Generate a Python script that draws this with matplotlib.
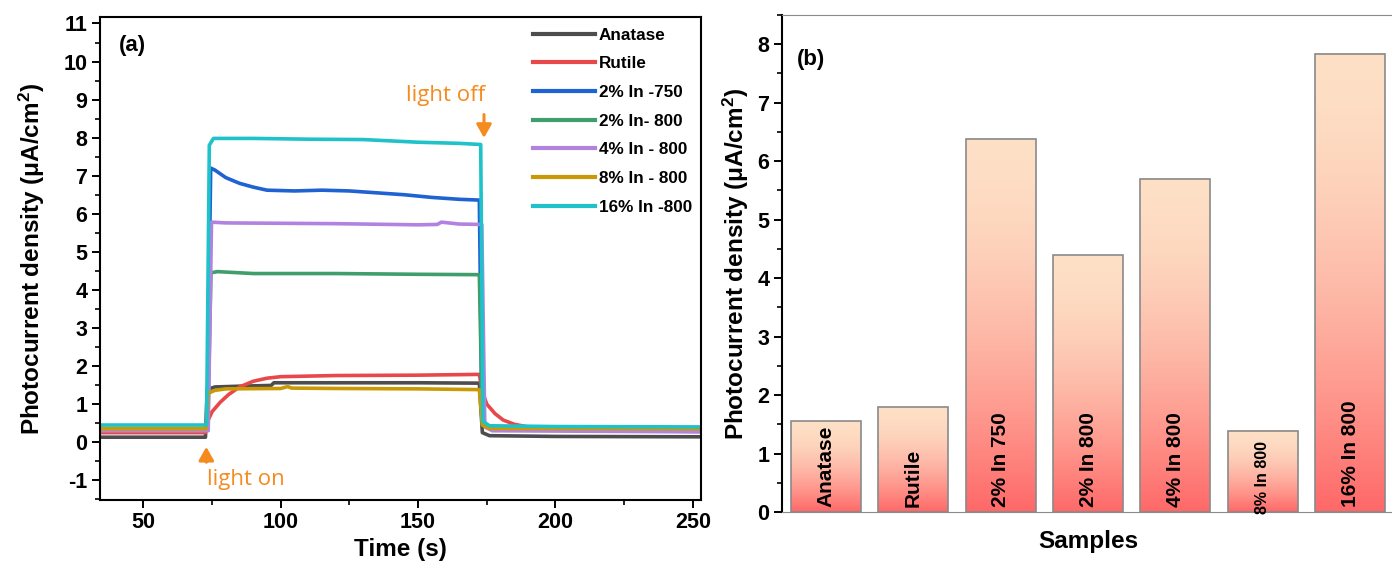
import numpy as np
import matplotlib
matplotlib.use('Agg')
from matplotlib import pyplot as plt
from matplotlib.colors import to_rgb
from matplotlib.ticker import MultipleLocator

plt.rcParams['font.family'] = ['Liberation Sans', 'DejaVu Sans']
plt.rcParams['font.weight'] = 'bold'
plt.rcParams['mathtext.default'] = 'regular'
plt.rcParams['axes.unicode_minus'] = False

# ---- panel (a): transient photocurrent ----
names = ['Anatase', 'Rutile', '2% In -750', '2% In- 800', '4% In - 800', '8% In - 800', '16% In -800']
colors = ['#4d4d4d', '#e8484a', '#1f62d2', '#3f9e6c', '#b282e0', '#c99a06', '#1ec2c8']

t_anatase = [34, 72.6, 73.2, 76, 85, 96.5, 97.5, 120, 150, 172.3, 173.4, 176, 200, 253]
j_anatase = [0.13, 0.13, 1.38, 1.45, 1.47, 1.49, 1.56, 1.56, 1.56, 1.55, 0.25, 0.17, 0.15, 0.14]

t_rutile = [34, 72.6, 73.4, 75, 78, 81, 85, 90, 95, 100, 120, 150, 172.3, 173.3, 175, 178, 181, 185, 190, 200, 253]
j_rutile = [0.25, 0.25, 0.55, 0.8, 1.05, 1.25, 1.45, 1.6, 1.68, 1.72, 1.75, 1.76, 1.78, 1.35, 1.0, 0.75, 0.58, 0.47, 0.4, 0.32, 0.28]

t_blue = [34, 73.2, 74.5, 76, 80, 85, 90, 95, 105, 115, 125, 135, 145, 155, 165, 172.3, 173.3, 176, 253]
j_blue = [0.35, 0.35, 7.2, 7.15, 6.95, 6.8, 6.7, 6.62, 6.6, 6.62, 6.6, 6.55, 6.5, 6.43, 6.38, 6.36, 0.45, 0.36, 0.33]

t_green = [34, 73.4, 74.6, 77, 90, 120, 150, 172.3, 173.4, 176, 253]
j_green = [0.36, 0.36, 4.45, 4.48, 4.43, 4.43, 4.41, 4.4, 0.45, 0.36, 0.34]

t_purple = [34, 73.6, 74.8, 80, 120, 150, 157, 158.5, 165, 173.2, 174.3, 177, 253]
j_purple = [0.3, 0.3, 5.78, 5.76, 5.74, 5.71, 5.72, 5.78, 5.73, 5.72, 0.4, 0.3, 0.27]

t_gold = [34, 72.8, 73.5, 76, 80, 100, 102.5, 104, 120, 150, 172.3, 173.4, 176, 253]
j_gold = [0.35, 0.35, 1.28, 1.36, 1.4, 1.41, 1.46, 1.42, 1.41, 1.4, 1.38, 0.45, 0.36, 0.35]

t_cyan = [34, 73.0, 74.0, 75.5, 90, 110, 130, 150, 165, 172.8, 173.6, 176, 200, 253]
j_cyan = [0.45, 0.45, 7.8, 7.98, 7.98, 7.96, 7.95, 7.88, 7.85, 7.82, 0.55, 0.43, 0.41, 0.4]

traces = [(t_anatase, j_anatase), (t_rutile, j_rutile), (t_blue, j_blue), (t_green, j_green),
          (t_purple, j_purple), (t_gold, j_gold), (t_cyan, j_cyan)]

# ---- panel (b): steady photocurrent ----
samples = ['Anatase', 'Rutile', '2% In 750', '2% In 800', '4% In 800', '8% In 800', '16% In 800']
density = [1.55, 1.79, 6.38, 4.39, 5.70, 1.39, 7.84]

orange = '#f58a1f'

fig = plt.figure(figsize=(13.92, 5.63), dpi=100)
ax1 = fig.add_axes([100 / 1392, 63 / 563, 601 / 1392, 483 / 563])
ax2 = fig.add_axes([782 / 1392, 51 / 563, 612 / 1392, 497 / 563])

for (t, j), c, n in zip(traces, colors, names):
    ax1.plot(t, j, color=c, lw=2.6, label=n)

ax1.set_xlim(34.2, 253)
ax1.set_ylim(-1.52, 11.17)
ax1.xaxis.set_major_locator(MultipleLocator(50))
ax1.xaxis.set_minor_locator(MultipleLocator(25))
ax1.yaxis.set_major_locator(MultipleLocator(1))
ax1.yaxis.set_minor_locator(MultipleLocator(0.5))
ax1.tick_params(which='major', direction='out', length=6, width=1.4, labelsize=15.5, pad=3)
ax1.tick_params(which='minor', direction='out', length=3.5, width=1.2)
ax1.tick_params(axis='x', which='both', top=False)
for s in ax1.spines.values():
    s.set_linewidth(1.5)
ax1.set_xlabel('Time (s)', fontsize=17.5, fontweight='bold', labelpad=3)
ax1.set_ylabel(r'Photocurrent density ($\mu$A/cm$^2$)', fontsize=17.5, fontweight='bold', labelpad=12)
ax1.text(0.032, 0.93, '(a)', transform=ax1.transAxes, fontsize=16, fontweight='bold')

leg = ax1.legend(loc='upper left', bbox_to_anchor=(0.695, 1.01), frameon=False,
                 prop={'size': 12.3, 'weight': 'bold'}, handlelength=3.6,
                 handletextpad=0.25, labelspacing=0.8)
for h in leg.get_lines():
    h.set_linewidth(3)

arrow = dict(arrowstyle='-|>,head_width=0.45,head_length=0.8', color=orange, lw=2.2)
ax1.annotate('', xy=(72.9, -0.05), xytext=(72.9, -0.6), arrowprops=arrow)
ax1.text(73.3, -0.98, 'light on', color=orange, fontsize=16, fontweight='normal',
         family='Open Sans', va='center', ha='left')
ax1.annotate('', xy=(174.0, 7.92), xytext=(174.0, 8.68), arrowprops=arrow)
ax1.text(160.0, 9.1, 'light off', color=orange, fontsize=16, fontweight='normal',
         family='Open Sans', va='center', ha='center')

# gradient bars: red at the base easing into peach at the top
red = np.array(to_rgb('#ff6868'))
peach = np.array(to_rgb('#fde0c6'))
f = np.linspace(0, 1, 400)
ease = 1 - (1 - f) ** 1.7
grad = (red[None, :] + (peach - red)[None, :] * ease[:, None])[:, None, :]

xs = np.arange(len(samples))
bw = 0.8
ax2.bar(xs, density, width=bw, facecolor='none', edgecolor='#8a8a8a', lw=1.2, zorder=3)
for x, h in zip(xs, density):
    ax2.imshow(grad, origin='lower', aspect='auto', interpolation='bilinear',
               extent=[x - bw / 2, x + bw / 2, 0, h], zorder=2)
for x, s in zip(xs, samples):
    small = s.startswith('8%')
    ax2.text(x, 0.08 if not small else -0.03, s, rotation=90, ha='center', va='bottom',
             fontsize=11.5 if small else 15, fontweight='bold', zorder=4)

ax2.set_xlim(-0.5, 6.5)
ax2.set_ylim(0, 8.5)
ax2.set_xticks([])
ax2.yaxis.set_major_locator(MultipleLocator(1))
ax2.yaxis.set_minor_locator(MultipleLocator(0.5))
ax2.tick_params(which='major', direction='out', length=6, width=1.4, labelsize=15.5, pad=3)
ax2.tick_params(which='minor', direction='out', length=3.5, width=1.2)
ax2.spines['left'].set_linewidth(1.5)
ax2.spines['top'].set_color('#8a8a8a')
ax2.spines['bottom'].set_color('#8a8a8a')
ax2.spines['right'].set_visible(False)
ax2.set_xlabel('Samples', fontsize=17.5, fontweight='bold', labelpad=13)
ax2.set_ylabel(r'Photocurrent density ($\mu$A/cm$^2$)', fontsize=17.5, fontweight='bold', labelpad=5)
ax2.text(0.025, 0.9, '(b)', transform=ax2.transAxes, fontsize=16, fontweight='bold')

fig.savefig('out.png', dpi=100)
